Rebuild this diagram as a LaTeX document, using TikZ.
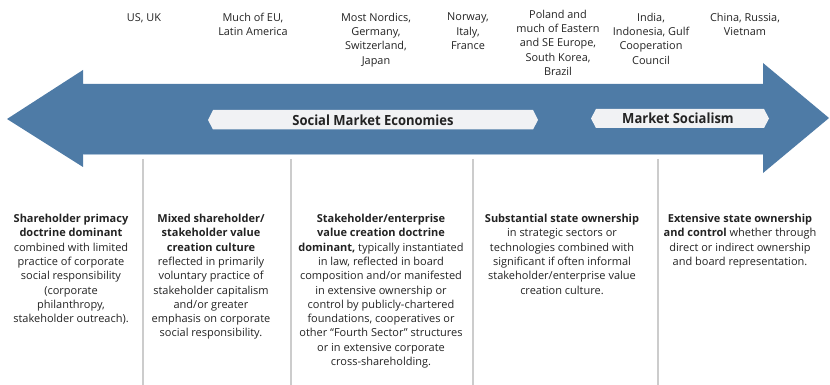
\documentclass[tikz,border=0pt]{standalone}
\usepackage{fontspec}
\setmainfont{Open Sans}
\newfontfamily\bannerfont[FakeStretch=0.93]{Open Sans}
\definecolor{arrowblue}{RGB}{78,123,166}
\definecolor{edgeblue}{RGB}{170,193,215}
\definecolor{bannergray}{RGB}{241,242,244}
\definecolor{textgray}{RGB}{35,35,35}
\definecolor{rulegray}{RGB}{204,204,204}
\tikzstyle{country}=[align=center,anchor=north,inner sep=0pt,text=textgray,font=\fontsize{10.9}{14.2}\selectfont]
\tikzstyle{model}=[align=center,anchor=north,inner sep=0pt,text=textgray,font=\fontsize{11}{14.3}\selectfont]
\tikzstyle{banner}=[fill=bannergray,draw=none]
\tikzstyle{bannertext}=[inner sep=0pt,text=textgray,font=\bannerfont\bfseries\fontsize{14}{16}\selectfont]
\tikzstyle{divider}=[draw=rulegray,line width=1.5pt]

\begin{document}
\begin{tikzpicture}[x=1pt,y=-1pt]
\useasboundingbox (0,0) rectangle (830,385);
\fill[arrowblue] (7,119) -- (83,70) -- (83,84) -- (763,84) -- (763,63) -- (829,118)
  -- (763,173) -- (763,155) -- (83,155) -- (83,167) -- cycle;
\draw[edgeblue,line width=1pt] (83,154.5) -- (763,154.5);
\fill[banner] (208,120) -- (213,110) -- (533,110) -- (538,120) -- (533,129.5) -- (213,129.5) -- cycle;
\fill[banner] (591,118.5) -- (596,109) -- (764,109) -- (769,118.5) -- (764,128) -- (596,128) -- cycle;
\node[bannertext] (sme) at (373,120) {Social Market Economies};
\node[bannertext] (ms) at (678,118.5) {Market Socialism};

\node[country] (usuk) at (144,13) {US, UK};
\node[country] (eu) at (253,13) {Much of EU,\\Latin America};
\node[country] (nordic) at (376,13) {Most Nordics,\\Germany,\\Switzerland,\\Japan};
\node[country] (norway) at (468,13) {Norway,\\Italy,\\France};
\node[country] (poland) at (558,10) {Poland and\\much of Eastern\\and SE Europe,\\South Korea,\\Brazil};
\node[country] (india) at (651,13) {India,\\Indonesia, Gulf\\Cooperation\\Council};
\node[country] (china) at (745,13) {China, Russia,\\Vietnam};

\draw[divider] (143,159) -- (143,385);
\draw[divider] (291,159) -- (291,385);
\draw[divider] (473,159) -- (473,385);
\draw[divider] (658,159) -- (658,385);

\node[model] (primacy) at (71,214) {\textbf{Shareholder primacy}\\\textbf{doctrine dominant}\\combined with limited\\practice of corporate\\social responsibility\\(corporate\\philanthropy,\\stakeholder outreach).};
\node[model] (mixed) at (211,214) {\textbf{Mixed shareholder/}\\\textbf{stakeholder value}\\\textbf{creation culture}\\reflected in primarily\\voluntary practice of\\stakeholder capitalism\\and/or greater\\emphasis on corporate\\social responsibility.};
\node[model] (enterprise) at (381,214) {\textbf{Stakeholder/enterprise}\\\textbf{value creation doctrine}\\\textbf{dominant,} typically instantiated\\in law, reflected in board\\composition and/or manifested\\in extensive ownership or\\control by publicly-chartered\\foundations, cooperatives or\\other “Fourth Sector” structures\\or in extensive corporate\\cross-shareholding.};
\node[model] (substantial) at (562,214) {\textbf{Substantial state ownership}\\in strategic sectors or\\technologies combined with\\significant if often informal\\stakeholder/enterprise value\\creation culture.};
\node[model] (extensive) at (740,214) {\textbf{Extensive state ownership}\\\textbf{and control} whether through\\direct or indirect ownership\\and board representation.};
\end{tikzpicture}
\end{document}
